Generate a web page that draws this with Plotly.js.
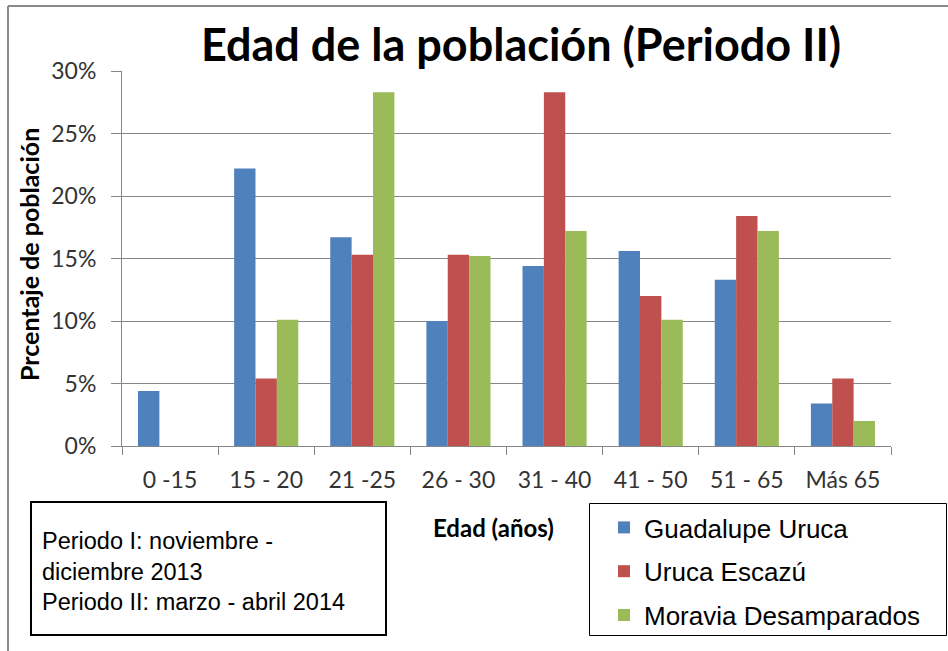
<!DOCTYPE html>
<html>
<head>
<meta charset="utf-8">
<script src="https://cdn.plot.ly/plotly-3.0.1.min.js"></script>
<style>html,body{margin:0;padding:0;background:#fff;}#chart{width:948px;height:651px;}</style>
</head>
<body>
<div id="chart"></div>
<script>
// ---- data ----
const categories = ["0 -15", "15 - 20", "21 -25", "26 - 30", "31 - 40", "41 - 50", "51 - 65", "Más 65"];
const seriesNames = ["Guadalupe Uruca", "Uruca Escazú", "Moravia Desamparados"];
const guadalupeUruca = [4.4, 22.2, 16.7, 10.0, 14.4, 15.6, 13.3, 3.4];
const urucaEscazu = [0, 5.4, 15.3, 15.3, 28.3, 12.0, 18.4, 5.4];
const moraviaDesamparados = [0, 10.1, 28.3, 15.2, 17.2, 10.1, 17.2, 2.0];
const yTicks = [0, 5, 10, 15, 20, 25, 30];
const titleText = "Edad de la población (Periodo II)";
const xTitle = "Edad (años)";
const yTitle = "Prcentaje de población";
const noteLines = ["Periodo I: noviembre -", "diciembre 2013", "Periodo II: marzo - abril 2014"];

// ---- layout geometry (pixels) ----
const W = 948, H = 651;
const ML = 122, MR = 57, MT = 71, MB = 205;
const PW = W - ML - MR, PH = H - MT - MB;
const px = v => (v - ML) / PW;
const py = v => (MT + PH - v) / PH;

const colors = ["#4F81BD", "#C0504D", "#9BBB59"];
const allSeries = [guadalupeUruca, urucaEscazu, moraviaDesamparados];
const traces = allSeries.map((vals, i) => ({
  type: "bar",
  name: seriesNames[i],
  x: categories,
  y: vals,
  marker: { color: colors[i], line: { width: 0 } },
  legendgroup: "g" + i,
  hoverinfo: "x+y+name"
}));

const labelFont = "Lato, 'Open Sans', sans-serif";
const arialFont = "'Liberation Sans', Arial, sans-serif";
const gray = "#868686";

const layout = {
  width: W, height: H,
  margin: { l: ML, r: MR, t: MT, b: MB, pad: 0 },
  paper_bgcolor: "#ffffff",
  plot_bgcolor: "#ffffff",
  barmode: "group",
  bargap: 0.333,
  bargroupgap: 0,
  title: {
    text: "<b>" + titleText + "</b>",
    font: { family: labelFont, size: 45, color: "#000" },
    x: 521 / W, xanchor: "center", xref: "container",
    y: 1 - 45 / H, yanchor: "middle", yref: "container"
  },
  xaxis: {
    type: "category",
    tickson: "boundaries",
    ticks: "outside", ticklen: 8, tickwidth: 1, tickcolor: gray,
    showline: true, linecolor: gray, linewidth: 1,
    showgrid: false, zeroline: false,
    tickfont: { family: labelFont, size: 23, color: "#333" },
    ticklabelstandoff: 13,
    fixedrange: true
  },
  yaxis: {
    range: [0, 30],
    tickvals: yTicks,
    ticktext: yTicks.map(v => v + "%"),
    ticks: "outside", ticklen: 10, tickwidth: 1, tickcolor: gray,
    showline: true, linecolor: gray, linewidth: 1,
    showgrid: true, gridcolor: gray, gridwidth: 1,
    zeroline: false,
    tickfont: { family: labelFont, size: 23, color: "#333" },
    ticklabelstandoff: 10,
    fixedrange: true
  },
  showlegend: true,
  legend: {
    x: px(604), xanchor: "left",
    y: py(504), yanchor: "top",
    bgcolor: "rgba(0,0,0,0)",
    borderwidth: 0,
    font: { family: arialFont, size: 26, color: "#000" },
    traceorder: "grouped",
    tracegroupgap: 7,
    itemclick: false, itemdoubleclick: false
  },
  shapes: [
    // outer chart frame (left and top edges visible)
    { type: "line", xref: "paper", yref: "paper", x0: px(8), x1: px(8), y0: py(6), y1: py(H + 5), line: { color: "#8a8a8a", width: 2 } },
    { type: "line", xref: "paper", yref: "paper", x0: px(8), x1: px(W + 5), y0: py(6), y1: py(6), line: { color: "#8a8a8a", width: 2 } },
    // note box
    { type: "rect", xref: "paper", yref: "paper", x0: px(31), x1: px(386), y0: py(502), y1: py(635), line: { color: "#000", width: 2 }, fillcolor: "rgba(0,0,0,0)" },
    // legend box
    { type: "rect", xref: "paper", yref: "paper", x0: px(589.5), x1: px(946.5), y0: py(503.5), y1: py(635.5), line: { color: "#000", width: 1 }, fillcolor: "rgba(0,0,0,0)" }
  ],
  annotations: [
    { text: "<b>" + xTitle + "</b>", xref: "paper", yref: "paper", x: px(493), y: py(527), xanchor: "center", yanchor: "middle", showarrow: false, font: { family: labelFont, size: 24, color: "#000" } },
    { text: "<b>" + yTitle + "</b>", xref: "paper", yref: "paper", x: px(29), y: py(255), xanchor: "center", yanchor: "middle", textangle: -90, showarrow: false, font: { family: labelFont, size: 25, color: "#000" } },
    { text: noteLines.join("<br>"), xref: "paper", yref: "paper", x: px(40), y: py(571), xanchor: "left", yanchor: "middle", align: "left", showarrow: false,
      font: { family: arialFont, size: 23.5, color: "#000" } }
  ]
};

Plotly.newPlot("chart", traces, layout, { displayModeBar: false, staticPlot: false, responsive: false });
</script>
</body>
</html>
